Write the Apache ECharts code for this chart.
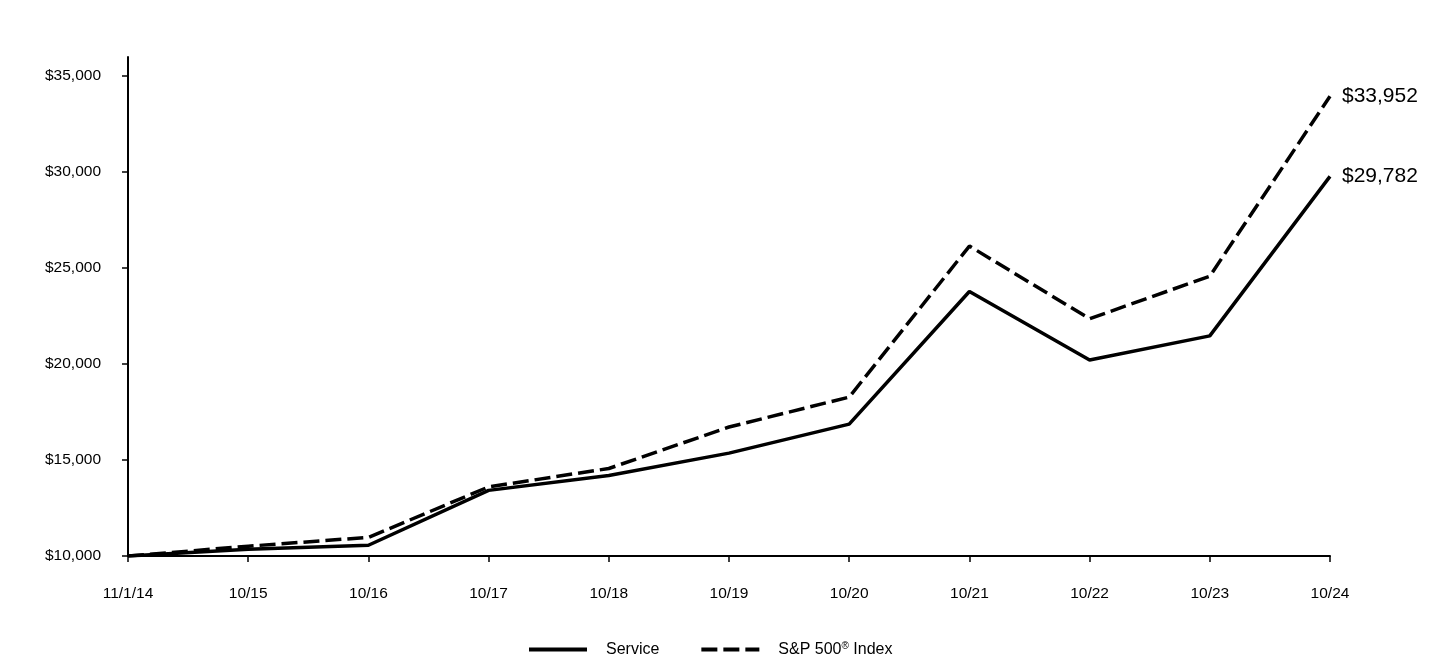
<!DOCTYPE html>
<html>
<head>
<meta charset="utf-8">
<script src="https://cdn.jsdelivr.net/npm/echarts@6/dist/echarts.min.js"></script>
<style>html,body{margin:0;padding:0;background:#fff}#c{width:1440px;height:660px}</style>
</head>
<body>
<div id="c"></div>
<script>
const categories = ['11/1/14','10/15','10/16','10/17','10/18','10/19','10/20','10/21','10/22','10/23','10/24'];
const serviceValues = [10000, 10350, 10560, 13420, 14190, 15360, 16870, 23780, 20210, 21470, 29782];
const spValues = [10000, 10510, 10970, 13600, 14560, 16720, 18280, 26150, 22360, 24580, 33952];
const yTicks = [10000, 15000, 20000, 25000, 30000, 35000];

const font = 'Arial, "Liberation Sans", sans-serif';
const chart = echarts.init(document.getElementById('c'));
const money = v => '$' + v.toLocaleString('en-US');
chart.setOption({
  animation: false,
  backgroundColor: '#fff',
  grid: { left: 128, right: 110, top: 57, bottom: 104 },
  xAxis: {
    type: 'category', data: categories, boundaryGap: false,
    axisLine: { lineStyle: { color: '#000', width: 2 } },
    axisTick: { show: true, length: 6, lineStyle: { color: '#000', width: 1.5 } },
    axisLabel: { color: '#000', fontFamily: font, fontSize: 15.5, margin: 30, interval: 0 },
    splitLine: { show: false }
  },
  yAxis: {
    type: 'value', min: 10000, max: 36000, interval: 5000,
    axisLine: { show: true, lineStyle: { color: '#000', width: 2 } },
    axisTick: { show: true, length: 6, customValues: yTicks, lineStyle: { color: '#000', width: 1.5 } },
    axisLabel: { color: '#000', fontFamily: font, fontSize: 15.5, margin: 27, customValues: yTicks, formatter: money },
    splitLine: { show: false }
  },
  legend: {
    top: 636, left: 522, itemWidth: 58, itemHeight: 14, itemGap: 40,
    itemStyle: { opacity: 0 },
    lineStyle: { width: 4 },
    textStyle: { color: '#000', fontFamily: font, fontSize: 16, padding: [0,0,0,14],
      rich: { sup: { fontSize: 10, verticalAlign: 'top', padding: [0,0,7,0], color: '#000', fontFamily: font } } },
    formatter: n => n === 'S&P 500® Index' ? 'S&P 500{sup|®} Index' : n,
    data: ['Service', 'S&P 500® Index']
  },
  series: [
    {
      name: 'Service', type: 'line', data: serviceValues, symbol: 'none',
      lineStyle: { color: '#000', width: 3.5, type: 'solid' }, itemStyle: { color: '#000' },
      endLabel: { show: true, formatter: p => money(p.value), color: '#000', fontFamily: font, fontSize: 21, distance: 12 }
    },
    {
      name: 'S&P 500® Index', type: 'line', data: spValues, symbol: 'none',
      lineStyle: { color: '#000', width: 3.5, type: [16, 6] }, itemStyle: { color: '#000' },
      endLabel: { show: true, formatter: p => money(p.value), color: '#000', fontFamily: font, fontSize: 21, distance: 12 }
    }
  ]
});
</script>
</body>
</html>
